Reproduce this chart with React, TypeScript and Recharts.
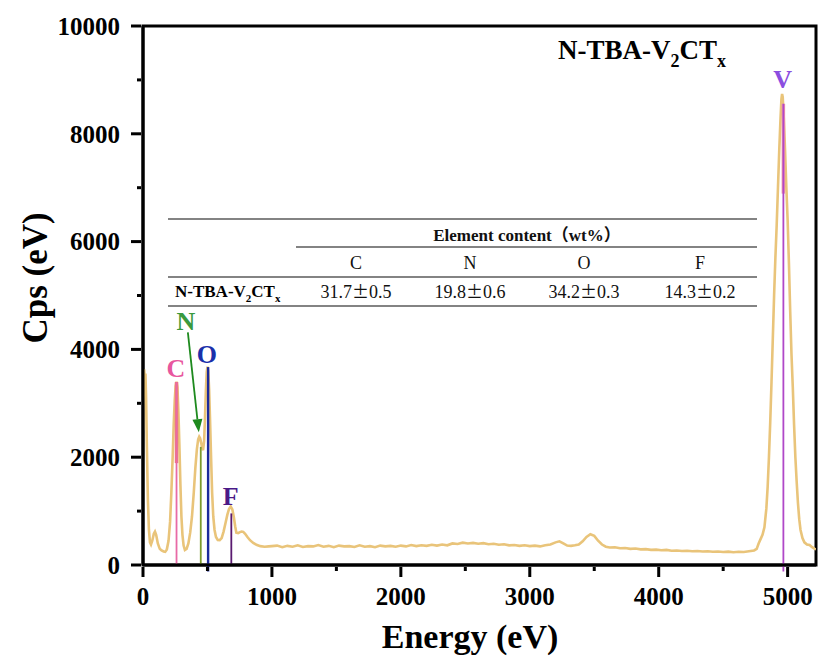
import React from 'react';
import {
  LineChart,
  Line,
  XAxis,
  YAxis,
  ReferenceLine,
  ReferenceDot,
  ReferenceArea,
} from 'recharts';

const SERIF = '"Liberation Serif", "Times New Roman", "Noto Sans CJK SC", serif';

// EDS spectrum, [energy eV, counts/s]
const lowEnergyScan: [number, number][] = [
  [0, 2500], [4, 3300], [9, 3630], [14, 3450], [19, 3550], [24, 3100], [30, 2200], [38, 1200],
  [46, 650], [54, 420], [62, 380], [72, 450], [84, 580], [93, 620], [102, 560], [115, 400],
  [130, 300], [144, 270], [160, 250], [172, 245], [185, 290], [198, 450], [210, 800], [220, 1350],
  [230, 2000], [238, 2600], [246, 3050], [253, 3320], [260, 3400], [267, 3300], [274, 2900],
  [282, 2250], [290, 1500], [298, 900], [306, 560], [315, 360], [325, 280], [338, 300], [352, 400],
  [366, 600], [380, 900], [394, 1350], [406, 1800], [418, 2150], [428, 2330], [436, 2380],
  [443, 2350], [450, 2280], [458, 2180], [466, 2130], [474, 2300], [481, 2750], [488, 3250],
  [494, 3580], [500, 3680], [506, 3600], [513, 3250], [520, 2700], [528, 2000], [536, 1350],
  [545, 900], [555, 650], [566, 520], [580, 465], [595, 460], [610, 500], [625, 620], [640, 780],
  [654, 930], [667, 1040], [680, 1085], [693, 1030], [705, 880], [715, 720], [724, 600], [738, 590],
  [752, 610], [765, 620], [778, 615], [792, 580], [810, 520], [830, 460], [855, 410], [880, 375],
  [910, 350], [943, 340], [975, 345],
];

const backgroundScan: [number, number][] = [
  [1000, 350], [1040, 360], [1080, 330], [1120, 355], [1160, 340], [1200, 365], [1240, 335],
  [1280, 350], [1320, 345], [1360, 370], [1400, 340], [1440, 355], [1480, 330], [1520, 360],
  [1560, 345], [1600, 350], [1640, 335], [1680, 365], [1720, 340], [1760, 350], [1800, 330],
  [1840, 360], [1880, 345], [1920, 355], [1960, 340], [2000, 360], [2040, 345], [2080, 370],
  [2120, 350], [2160, 365], [2200, 355], [2240, 375], [2280, 360], [2320, 380], [2360, 365],
  [2400, 400], [2440, 390], [2480, 415], [2520, 400], [2560, 410], [2600, 395], [2640, 405],
  [2680, 385], [2720, 395], [2760, 375], [2800, 385], [2840, 365], [2880, 370], [2920, 355],
  [2960, 365], [3000, 350], [3040, 360], [3080, 345], [3120, 365], [3160, 380], [3200, 420],
  [3230, 440], [3260, 400], [3290, 360], [3320, 355], [3350, 365], [3380, 380], [3410, 440],
  [3440, 520], [3470, 570], [3500, 540], [3530, 450], [3560, 380], [3590, 340], [3620, 325],
  [3660, 330], [3700, 310], [3740, 315], [3780, 300], [3820, 305], [3860, 290], [3900, 295],
  [3940, 280], [3980, 285], [4020, 275], [4060, 280], [4100, 265], [4140, 270], [4180, 260],
  [4220, 265], [4260, 255], [4300, 260], [4340, 250], [4380, 255], [4420, 245], [4460, 250],
  [4500, 240], [4540, 248], [4580, 238], [4620, 245], [4660, 240], [4700, 255],
];

const vanadiumScan: [number, number][] = [
  [4740, 270], [4760, 300], [4775, 400], [4790, 480], [4805, 560], [4820, 700], [4835, 1050],
  [4845, 1450], [4855, 2000], [4865, 2650], [4875, 3400], [4885, 4200], [4895, 5000], [4905, 5700],
  [4915, 6300], [4925, 7000], [4935, 7700], [4945, 8300], [4952, 8650], [4957, 8740], [4962, 8680],
  [4970, 8300], [4980, 7700], [4990, 7000], [5000, 6400], [5010, 5600], [5020, 4700], [5030, 3900],
  [5040, 3300], [5050, 2600], [5060, 2000], [5070, 1550], [5080, 1150], [5090, 850], [5100, 650],
  [5115, 500], [5130, 420], [5150, 380], [5170, 370], [5190, 330], [5210, 300], [5220, 290],
];

// characteristic line markers
const markerElements = ['C', 'N', 'O', 'F', 'V'];
const markerEnergy = [260, 448, 505, 685, 4967];
const markerTop = [3395, 2191, 3672, 957, 8556];

// element symbol anchors [energy, cps]
const symbolAnchor: [number, number][] = [
  [255, 3648], [332, 4537], [495, 3908], [680, 1278], [4961, 9019],
];

// arrow from N symbol to N peak
const nArrow: [number, number][] = [[348, 4315], [433, 2463]];

// composition table
const tableElements = ['C', 'N', 'O', 'F'];
const wtMean = [31.7, 19.8, 34.2, 14.3];
const wtError = [0.5, 0.6, 0.3, 0.2];

const xTicks = [0, 500, 1000, 1500, 2000, 2500, 3000, 3500, 4000, 4500, 5000];
const yTicks = [0, 1000, 2000, 3000, 4000, 5000, 6000, 7000, 8000, 9000, 10000];

const spectrum = [...lowEnergyScan, ...backgroundScan, ...vanadiumScan].map(([e, c]) => ({
  energy: e,
  cps: c,
}));

const markerColor: Record<string, string> = {
  C: '#e86aa6',
  N: '#7d9a2c',
  O: '#1c2a9c',
  F: '#5a1a70',
  V: '#b048c8',
};
const symbolColor: Record<string, string> = {
  C: '#e8579e',
  N: '#3a9a3e',
  O: '#1a30aa',
  F: '#4a1a88',
  V: '#8b4ee0',
};

function YTick(props: any) {
  const { x, y, payload } = props;
  const major = payload.value % 2000 === 0;
  return (
    <g>
      <line x1={x} x2={x - (major ? 10 : 4)} y1={y} y2={y} stroke="#000" strokeWidth={3} />
      {major && (
        <text x={x - 21} y={y} dy="0.35em" textAnchor="end" fontFamily={SERIF} fontWeight="bold" fontSize={25} fill="#000">
          {payload.value}
        </text>
      )}
    </g>
  );
}

function XTick(props: any) {
  const { x, y, payload } = props;
  const major = payload.value % 1000 === 0;
  return (
    <g>
      <line x1={x} x2={x} y1={y} y2={y + (major ? 10 : 4)} stroke="#000" strokeWidth={3} />
      {major && (
        <text x={x} y={y + 38} textAnchor="middle" fontFamily={SERIF} fontWeight="bold" fontSize={25} fill="#000">
          {payload.value}
        </text>
      )}
    </g>
  );
}

function ArrowShape(props: any) {
  const { x1, y1, x2, y2 } = props;
  const ang = Math.atan2(y2 - y1, x2 - x1);
  const len = 13;
  const half = 5;
  const bx = x2 - len * Math.cos(ang);
  const by = y2 - len * Math.sin(ang);
  const px = -Math.sin(ang) * half;
  const py = Math.cos(ang) * half;
  return (
    <g>
      <line x1={x1} y1={y1} x2={bx} y2={by} stroke="#1e8a1e" strokeWidth={1.8} />
      <polygon points={`${x2},${y2} ${bx + px},${by + py} ${bx - px},${by - py}`} fill="#1e8a1e" />
    </g>
  );
}

function symbolShape(label: string) {
  return (props: any) => (
    <text
      x={props.cx}
      y={props.cy}
      dy="0.35em"
      textAnchor="middle"
      fontFamily={SERIF}
      fontWeight="bold"
      fontSize={26}
      fill={symbolColor[label]}
    >
      {label}
    </text>
  );
}

function Formula({ x, y, size, anchor = 'start' }: { x: number; y: number; size: number; anchor?: string }) {
  const sub = Math.round(size * 0.65);
  const shift = Math.round(size * 0.28);
  return (
    <text x={x} y={y} textAnchor={anchor} fontFamily={SERIF} fontWeight="bold" fontSize={size} fill="#000">
      N-TBA-V
      <tspan fontSize={sub} dy={shift}>2</tspan>
      <tspan dy={-shift}>CT</tspan>
      <tspan fontSize={sub} dy={shift}>x</tspan>
    </text>
  );
}

function CompositionTable() {
  const colX = [356, 470, 584, 700];
  const rule = { stroke: '#5a5a5a', strokeWidth: 1.6 };
  return (
    <g>
      <line x1={168} x2={757} y1={219} y2={219} {...rule} />
      <line x1={296} x2={757} y1={247} y2={247} {...rule} />
      <line x1={168} x2={757} y1={277} y2={277} {...rule} />
      <line x1={168} x2={757} y1={306} y2={306} {...rule} />
      <text x={527} y={241} textAnchor="middle" fontFamily={SERIF} fontWeight="bold" fontSize={17} fill="#111">
        Element content（wt%）
      </text>
      {tableElements.map((el, i) => (
        <text key={el} x={colX[i]} y={269} textAnchor="middle" fontFamily={SERIF} fontSize={18} fill="#111">
          {el}
        </text>
      ))}
      <Formula x={175} y={297} size={17} />
      {wtMean.map((m, i) => (
        <text key={i} x={colX[i]} y={298} textAnchor="middle" fontFamily={SERIF} fontSize={18} fill="#111">
          {m.toFixed(1)}
          <tspan fontFamily='"Noto Sans CJK JP", "Noto Sans CJK SC", serif' fontSize={17}>±</tspan>
          {wtError[i].toFixed(1)}
        </text>
      ))}
    </g>
  );
}

export default function App() {
  return (
    <div style={{ position: 'absolute', left: 0, top: 0, width: 820, height: 660, background: '#fff' }}>
      <LineChart width={820} height={660} data={spectrum} margin={{ top: 26, right: 4, bottom: 0, left: 0 }}>
        <XAxis
          type="number"
          dataKey="energy"
          domain={[0, 5220]}
          ticks={xTicks}
          interval={0}
          height={95}
          tickSize={0}
          tickLine={false}
          tick={<XTick />}
          axisLine={{ stroke: '#000', strokeWidth: 3 }}
          allowDataOverflow
        />
        <YAxis
          type="number"
          domain={[0, 10000]}
          ticks={yTicks}
          interval={0}
          width={143}
          tickSize={0}
          tickLine={false}
          tick={<YTick />}
          axisLine={{ stroke: '#000', strokeWidth: 3 }}
          allowDataOverflow
        />
        <ReferenceArea x1={0} x2={5220} y1={0} y2={10000} fill="none" stroke="#000" strokeWidth={3} ifOverflow="visible" />
        <Line
          type="linear"
          dataKey="cps"
          stroke="#e9c47a"
          strokeWidth={2.6}
          dot={false}
          activeDot={false}
          isAnimationActive={false}
        />
        {/* overlaps on top of C and V markers */}
        <ReferenceLine
          segment={[{ x: markerEnergy[0], y: 1890 }, { x: markerEnergy[0], y: markerTop[0] }]}
          stroke="#f07c7c"
          strokeWidth={3.5}
          ifOverflow="visible"
        />
        <ReferenceLine
          segment={[{ x: markerEnergy[4], y: 6890 }, { x: markerEnergy[4], y: markerTop[4] }]}
          stroke="#f295a8"
          strokeWidth={3.5}
          ifOverflow="visible"
        />
        {markerElements.map((el, i) => (
          <ReferenceLine
            key={el}
            segment={[{ x: markerEnergy[i], y: el === 'O' || el === 'V' ? -120 : 0 }, { x: markerEnergy[i], y: markerTop[i] }]}
            stroke={markerColor[el]}
            strokeWidth={el === 'O' ? 2.4 : 1.8}
            ifOverflow="visible"
          />
        ))}
        <ReferenceLine
          segment={[{ x: nArrow[0][0], y: nArrow[0][1] }, { x: nArrow[1][0], y: nArrow[1][1] }]}
          shape={ArrowShape}
          ifOverflow="visible"
        />
        {markerElements.map((el, i) => (
          <ReferenceDot
            key={`s-${el}`}
            x={symbolAnchor[i][0]}
            y={symbolAnchor[i][1]}
            r={1}
            shape={symbolShape(el)}
            ifOverflow="visible"
          />
        ))}
      </LineChart>
      <svg
        width={820}
        height={660}
        style={{ position: 'absolute', left: 0, top: 0, pointerEvents: 'none' }}
      >
        <Formula x={642} y={59} size={27} anchor="middle" />
        <CompositionTable />
        <text
          x={35}
          y={278}
          transform="rotate(-90 35 278)"
          dy="0.35em"
          textAnchor="middle"
          fontFamily={SERIF}
          fontWeight="bold"
          fontSize={35}
          fill="#000"
        >
          Cps (eV)
        </text>
        <text x={470} y={648} textAnchor="middle" fontFamily={SERIF} fontWeight="bold" fontSize={34} fill="#000">
          Energy (eV)
        </text>
      </svg>
    </div>
  );
}
